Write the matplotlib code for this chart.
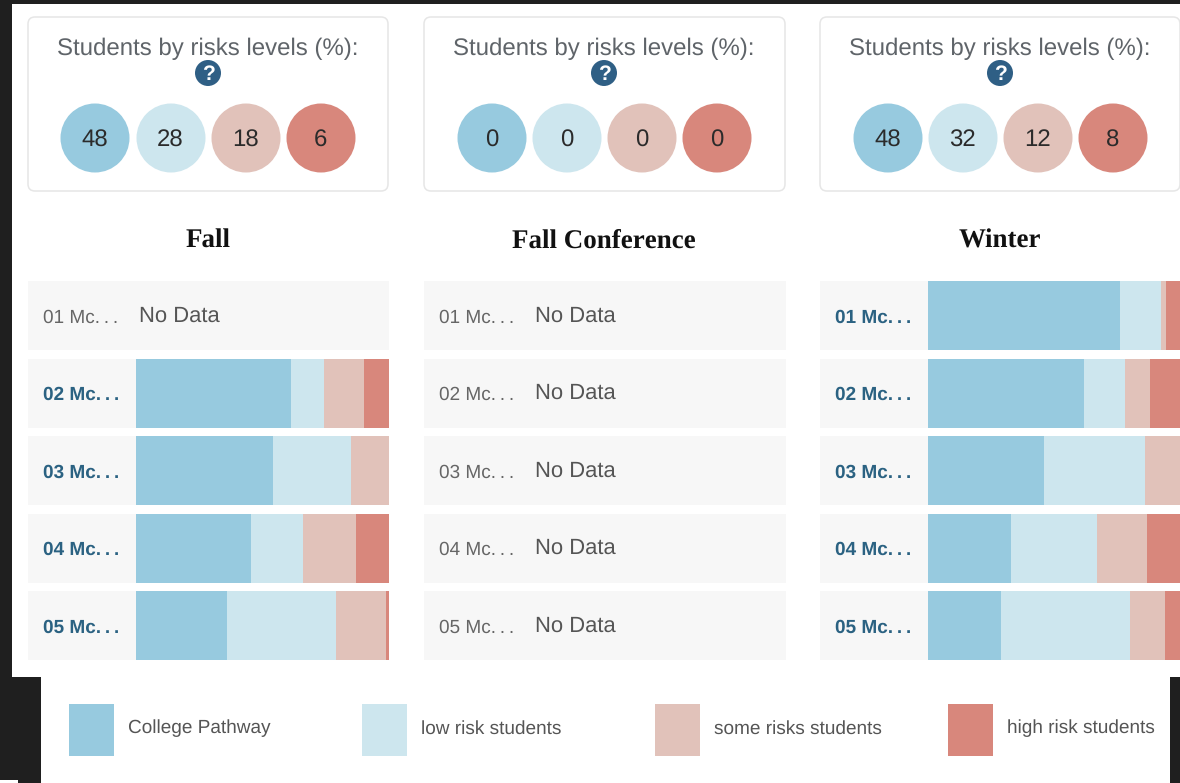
import matplotlib
matplotlib.use("Agg")
import matplotlib.pyplot as plt
from matplotlib.patches import Circle, FancyBboxPatch, Rectangle

W, H = 1180, 783
plt.rcParams['font.family'] = ['Liberation Sans', 'DejaVu Sans']
plt.rcParams['text.hinting'] = 'no_hinting'
plt.rcParams['text.hinting_factor'] = 1
plt.rcParams['text.kerning_factor'] = 6

# ---- data ----
terms = ["Fall", "Fall Conference", "Winter"]
risk_labels = ["College Pathway", "low risk students", "some risks students", "high risk students"]
row_labels = ["01 Mc.\u2009.\u2009.", "02 Mc.\u2009.\u2009.", "03 Mc.\u2009.\u2009.", "04 Mc.\u2009.\u2009.", "05 Mc.\u2009.\u2009."]
summary_fall = [48, 28, 18, 6]
summary_conf = [0, 0, 0, 0]
summary_winter = [48, 32, 12, 8]

fall_college = [0, 61.3, 54, 45.5, 36]
fall_low = [0, 13, 31, 20.5, 43]
fall_some = [0, 15.8, 15, 21, 20]
fall_high = [0, 9.9, 0, 13, 1]

conf_college = [0, 0, 0, 0, 0]
conf_low = [0, 0, 0, 0, 0]
conf_some = [0, 0, 0, 0, 0]
conf_high = [0, 0, 0, 0, 0]

winter_college = [76, 62, 46, 33, 29]
winter_low = [16.4, 16, 40, 34, 51]
winter_some = [1.9, 10, 14, 20, 14]
winter_high = [5.7, 12, 0, 13, 6]

# ---- style ----
colors = ["#97cadf", "#cde6ee", "#e1c2ba", "#d8877c"]
DARK = "#1f1f1f"
card_left = [28, 424, 820]
card_width = [360, 361, 360]
bar_left = [136, 532, 928]
bar_width = [253, 253, 252]
circle_x = [[95, 171, 246, 321], [492, 567, 642, 717], [888, 963, 1038, 1113]]
legend_sq = [69, 362, 655, 948]

fig = plt.figure(figsize=(W / 100, H / 100), dpi=100, facecolor=DARK)
bg = fig.add_axes([0, 0, 1, 1], zorder=0)
bg.set_xlim(0, W)
bg.set_ylim(H, 0)
bg.axis("off")

bg.add_patch(Rectangle((12, 4), W - 12, 673, fc="white", ec="none"))
bg.add_patch(Rectangle((41, 677), 1129, 106, fc="white", ec="none"))
bg.add_patch(Rectangle((0, 780), 18, 3, fc="white", ec="none"))

panels = [
    (summary_fall, [fall_college, fall_low, fall_some, fall_high]),
    (summary_conf, [conf_college, conf_low, conf_some, conf_high]),
    (summary_winter, [winter_college, winter_low, winter_some, winter_high]),
]

for p, (summary, series) in enumerate(panels):
    left, cw = card_left[p], card_width[p]
    mid = left + 180
    bg.add_patch(FancyBboxPatch((left, 17), cw, 174, boxstyle="round,pad=0,rounding_size=7",
                                fc="white", ec="#e6e6e6", lw=1.1))
    bg.text(mid, 55, "Students by risks levels (%):", ha="center", va="baseline",
            fontsize=17.2, color="#5f6469")
    bg.add_patch(Circle((mid, 73), 13, fc="#2f5f85", ec="none"))
    bg.text(mid, 79.5, "?", ha="center", va="baseline", fontsize=15, fontweight="bold", color="white")
    for cx, val, c in zip(circle_x[p], summary, colors):
        bg.add_patch(Circle((cx, 138), 34.5, fc=c, ec="none"))
        bg.text(cx - 0.5, 146.5, str(val), ha="center", va="baseline", fontsize=17.3, color="#2b2b2b")
    bg.text(mid, 248, terms[p], ha="center", va="baseline", fontsize=19.6, fontweight="bold",
            family=["Liberation Serif"], color="#111111")

    # row backgrounds
    for i in range(5):
        bg.add_patch(Rectangle((left, 281.3 + 77.5 * i), cw + 1 if p < 2 else cw, 69,
                               fc="#f7f7f7", ec="none"))

    # stacked bars
    ax = fig.add_axes([bar_left[p] / W, 1 - 660.3 / H, bar_width[p] / W, 379 / H], zorder=1)
    ax.patch.set_alpha(0)
    cum = [0] * 5
    for vals, c in zip(series, colors):
        ax.barh(range(5), vals, left=cum, height=69 / 77.5, color=c, edgecolor="none")
        cum = [a + b for a, b in zip(cum, vals)]
    ax.set_xlim(0, 100)
    ax.set_ylim(4.445, -0.445)
    ax.xaxis.set_visible(False)
    for s in ax.spines.values():
        s.set_visible(False)
    ax.set_yticks(range(5))
    ax.set_yticklabels(row_labels)
    ax.tick_params(axis="y", length=0, pad=(bar_left[p] - left - 15) * 0.72)
    for i, lab in enumerate(ax.get_yticklabels()):
        lab.set_ha("left")
        lab.set_fontsize(13.4)
        if cum[i] > 0:
            lab.set_fontweight("bold")
            lab.set_color("#2b6282")
        else:
            lab.set_color("#666666")
            ax.text(1.2, i + 0.075, "No Data", ha="left", va="baseline", fontsize=16.2, color="#555555")

# legend
for x, c, lab in zip(legend_sq, colors, risk_labels):
    bg.add_patch(Rectangle((x, 704), 45, 52, fc=c, ec="none"))
    bg.text(x + 59, 733.5, lab, ha="left", va="baseline", fontsize=13.8, color="#555555")

fig.savefig("out.png", dpi=100, facecolor=fig.get_facecolor())
